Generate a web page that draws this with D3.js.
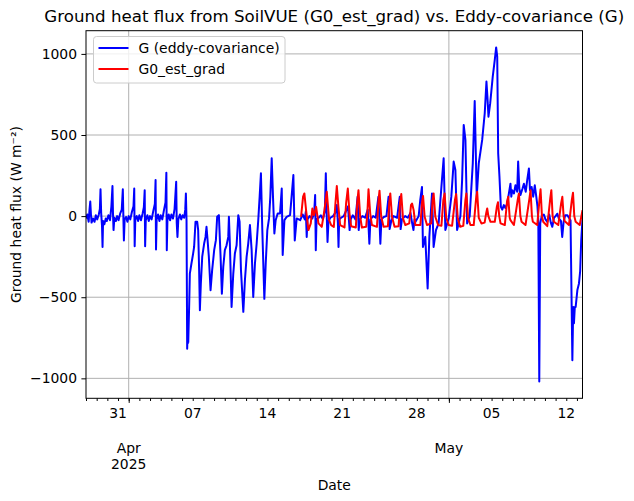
<!DOCTYPE html>
<html>
<head>
<meta charset="utf-8">
<script src="https://cdn.jsdelivr.net/npm/d3@7"></script>
<style>
  body { margin: 0; background: #fff; }
  text { font-family: "DejaVu Sans", sans-serif; fill: #000; }
</style>
</head>
<body>
<div id="chart"></div>
<script>
const width = 634;
const height = 501;
const margin = { top: 30.7, right: 51.5, bottom: 102.7, left: 86 };

// time axis origin; every point is [days since 2025-03-28 00:00 UTC, W m-2]
const startDate = Date.UTC(2025, 2, 28);

const gEddy = [
  [0,-15],[0.12,10],[0.25,-35],[0.33,40],[0.4,90],[0.46,15],[0.52,-40],[0.65,-15],[0.8,-35],[0.92,5],
  [1.05,-20],[1.2,10],[1.3,45],[1.36,165],[1.42,20],[1.5,-60],[1.55,-190],[1.6,-30],[1.72,-50],[1.85,-15],[1.95,-30],
  [2.1,5],[2.25,-25],[2.38,60],[2.48,185],[2.53,10],[2.58,-86],[2.66,-10],[2.8,-30],[2.92,0],
  [3.05,-25],[3.2,15],[3.35,40],[3.45,165],[3.5,0],[3.55,-150],[3.62,-20],[3.75,-5],[3.88,-35],
  [4.0,0],[4.15,-20],[4.3,25],[4.45,60],[4.52,170],[4.56,-185],[4.62,-20],[4.75,0],[4.88,-30],
  [5.0,5],[5.15,-25],[5.3,15],[5.42,55],[5.5,160],[5.54,-185],[5.6,-25],[5.75,5],[5.88,-30],
  [6.0,0],[6.15,-20],[6.3,30],[6.45,75],[6.52,222],[6.56,-205],[6.62,-20],[6.75,10],[6.88,-30],
  [7.0,5],[7.15,-20],[7.3,35],[7.45,85],[7.53,268],[7.57,-210],[7.63,-25],[7.75,10],[7.88,-25],
  [8.0,10],[8.15,-15],[8.3,45],[8.45,212],[8.5,-40],[8.57,-128],[8.65,-20],[8.8,10],[8.92,-20],
  [9.05,5],[9.2,-10],[9.3,40],[9.36,140],[9.42,-30],[9.48,-818],[9.53,-700],[9.58,-780],[9.67,-540],
  [9.73,-354],[9.88,-292],[10.04,-230],[10.13,-190],[10.26,-35],[10.42,-35],[10.51,-86],[10.6,-333],
  [10.67,-580],[10.76,-416],[10.89,-250],[11.07,-169],[11.2,-128],[11.29,-66],[11.39,-148],[11.51,-250],
  [11.67,-457],[11.82,-333],[12.01,-210],[12.17,-148],[12.29,-4],[12.45,6],[12.61,-250],[12.73,-478],
  [12.86,-313],[13.01,-210],[13.17,-180],[13.33,-128],[13.39,-4],[13.48,-169],[13.64,-560],[13.8,-354],
  [13.95,-230],[14.11,-180],[14.27,6],[14.39,-35],[14.52,-333],[14.74,-590],[14.89,-395],[15.05,-250],
  [15.2,-169],[15.36,-55],[15.52,-210],[15.67,-498],[15.83,-292],[15.99,-169],[16.14,-25],[16.27,120],
  [16.39,264],[16.52,-86],[16.71,-510],[16.84,-292],[16.99,-86],[17.15,-14],[17.27,120],[17.4,356],
  [17.52,120],[17.65,-107],[17.77,-25],[17.96,16],[18.18,16],[18.34,170],[18.43,-240],[18.59,-25],
  [18.8,-5],[19.12,6],[19.43,253],[19.56,-150],[19.74,-14],[20.07,-25],
  [20.3,10],[20.5,-20],[20.6,30],[20.68,-128],[20.75,-20],[20.95,0],[21.2,-15],[21.38,20],[21.47,130],
  [21.53,-210],[21.6,-20],[21.8,-10],[22.0,5],[22.2,-20],[22.38,30],[22.47,264],[22.55,20],[22.63,-160],
  [22.72,-30],[22.9,-10],[23.15,0],[23.35,20],[23.5,68],[23.6,-40],[23.66,-190],[23.72,-20],[23.9,-10],
  [24.15,0],[24.35,30],[24.55,60],[24.7,-86],[24.8,-20],[25.0,5],[25.25,-20],[25.45,120],[25.55,-86],
  [25.65,-20],[25.9,0],[26.15,-10],[26.4,40],[26.55,-170],[26.65,-20],[26.9,0],[27.15,-10],[27.4,120],
  [27.5,-30],[27.58,-170],[27.68,-20],[27.9,-5],[28.15,0],[28.35,120],[28.45,-80],[28.6,-30],[28.8,0],
  [29.15,-10],[29.4,120],[29.48,-80],[29.6,-20],[29.9,0],[30.15,-10],[30.4,20],[30.55,-40],[30.68,-86],
  [30.78,-20],[30.87,-35],[31.17,0],[31.32,100],[31.48,180],[31.57,-190],[31.79,-128],[32.01,-446],
  [32.17,-128],[32.42,140],[32.57,-190],[32.79,-86],[33.04,-45],[33.3,180],[33.51,356],[33.67,-86],
  [33.98,-15],[34.23,120],[34.45,336],[34.61,284],[34.77,-86],[35.08,0],[35.24,222],[35.39,562],
  [35.55,470],[35.71,-45],[35.95,0],[36.24,325],[36.42,710],[36.61,120],[36.8,325],[37.12,470],
  [37.36,634],[37.52,830],[37.61,737],[37.71,613],[37.87,695],[38.11,860],[38.3,963],[38.43,1040],
  [38.53,983],[38.62,387],[38.74,243],[38.87,58],[39.0,40],[39.15,68],[39.3,50],[39.47,78],[39.6,130],
  [39.77,200],[39.85,120],[39.93,160],[40.1,140],[40.24,190],[40.4,150],[40.49,336],[40.6,170],
  [40.71,130],[40.9,170],[41.03,200],[41.2,150],[41.34,222],[41.5,294],[41.6,160],[41.75,180],
  [41.9,120],[42.05,190],[42.19,120],[42.3,60],[42.38,-25],[42.47,-1020],[42.56,-45],[42.7,0],
  [42.9,10],[43.05,-20],[43.22,-35],[43.4,10],[43.55,-40],[43.69,-66],[43.85,-10],[44.0,0],[44.15,15],
  [44.31,-15],[44.5,-30],[44.62,-128],[44.75,-35],[44.9,5],[45.09,6],[45.25,-10],[45.4,-25],
  [45.57,-889],[45.65,-560],[45.72,-660],[45.8,-560],[45.88,-560],[46.04,-456],[46.19,-415],
  [46.3,-340],[46.4,-148],[46.52,-20]
];

const g0Grad = [
  [20.15,-4],[20.34,120],[20.46,140],[20.62,37],[20.84,-86],[21.06,-45],[21.21,47],[21.37,6],[21.56,57],
  [21.78,-45],[22.09,-66],[22.34,37],[22.56,150],[22.78,-25],[22.97,-55],[23.22,-66],[23.37,78],
  [23.5,185],[23.65,57],[23.81,-55],[24.22,-70],[24.37,78],[24.53,170],[24.69,16],[24.84,-62],
  [25.28,-70],[25.41,78],[25.53,160],[25.69,-4],[25.85,-70],[26.25,-66],[26.36,16],[26.47,165],
  [26.63,16],[26.79,-55],[27.26,-66],[27.41,99],[27.5,157],[27.66,-4],[27.88,-66],[28.29,-62],
  [28.41,78],[28.51,140],[28.67,-4],[28.91,-66],[29.29,-62],[29.42,78],[29.54,136],[29.7,-14],
  [29.92,-55],[30.29,-45],[30.45,68],[30.55,78],[30.7,37],[30.86,-55],[31.33,-55],[31.49,88],
  [31.58,124],[31.73,-4],[31.95,-55],[32.35,-45],[32.47,99],[32.57,140],[32.73,-4],[32.99,-55],
  [33.3,-60],[33.48,100],[33.6,140],[33.75,-10],[33.98,-55],[34.3,-60],[34.57,100],[34.68,136],
  [34.83,-10],[35.05,-66],[35.35,-60],[35.55,100],[35.64,140],[35.8,-10],[36.02,-55],[36.33,-55],
  [36.55,110],[36.65,150],[36.8,-10],[37.05,-45],[37.35,-40],[37.5,20],[37.59,47],[37.7,0],[37.9,-35],
  [38.3,-35],[38.5,60],[38.6,85],[38.72,0],[38.84,-45],[39.24,-55],[39.45,90],[39.56,119],[39.7,-10],
  [39.77,-25],[40.09,-55],[40.45,100],[40.56,140],[40.7,0],[40.81,-35],[41.18,-55],[41.55,110],
  [41.65,160],[41.78,0],[41.87,-35],[42.28,-55],[42.5,110],[42.59,165],[42.72,0],[42.84,-35],
  [43.22,-62],[43.5,110],[43.6,160],[43.72,0],[43.84,-35],[44.25,-55],[44.52,80],[44.63,119],
  [44.75,0],[44.84,-30],[45.25,-55],[45.52,100],[45.63,144],[45.75,0],[45.88,-35],[46.26,-55],
  [46.52,37]
];

const seriesNames = ["G (eddy-covariance)", "G0_est_grad"];
const seriesColors = ["blue", "red"];
const yTicks = [-1000, -500, 0, 500, 1000];
const weekLabelDates = ["2025-03-31", "2025-04-07", "2025-04-14", "2025-04-21", "2025-04-28", "2025-05-05", "2025-05-12"];
const monthLabels = [
  { date: "2025-04-01", lines: ["Apr", "2025"] },
  { date: "2025-05-01", lines: ["May"] }
];

const fontSize = "13.9px";
const toDate = d => new Date(startDate + d[0] * 864e5);
const allPoints = gEddy.concat(g0Grad);

const svg = d3.select("#chart")
  .append("svg")
  .attr("width", width)
  .attr("height", height);

const x = d3.scaleUtc()
  .domain(d3.extent(allPoints, toDate))
  .range([margin.left, width - margin.right]);

const [lo, hi] = d3.extent(allPoints, d => d[1]);
const pad = (hi - lo) * 0.05;
const y = d3.scaleLinear()
  .domain([lo - pad, hi + pad])
  .range([height - margin.bottom, margin.top]);

const bottom = height - margin.bottom;
const monthDates = monthLabels.map(m => new Date(m.date + "T00:00:00Z"));

// grid
svg.append("g")
  .selectAll("line")
  .data(yTicks)
  .enter()
  .append("line")
  .attr("x1", margin.left)
  .attr("x2", width - margin.right)
  .attr("y1", d => y(d))
  .attr("y2", d => y(d))
  .attr("stroke", "#b0b0b0")
  .attr("stroke-width", 1);

svg.append("g")
  .selectAll("line")
  .data(monthDates)
  .enter()
  .append("line")
  .attr("x1", d => x(d))
  .attr("x2", d => x(d))
  .attr("y1", margin.top)
  .attr("y2", bottom)
  .attr("stroke", "#b0b0b0")
  .attr("stroke-width", 1);

// series
svg.append("clipPath")
  .attr("id", "plot-area")
  .append("rect")
  .attr("x", margin.left)
  .attr("y", margin.top)
  .attr("width", width - margin.left - margin.right)
  .attr("height", bottom - margin.top);

const line = d3.line()
  .x(d => x(toDate(d)))
  .y(d => y(d[1]));

[gEddy, g0Grad].forEach((series, i) => {
  svg.append("path")
    .datum(series)
    .attr("clip-path", "url(#plot-area)")
    .attr("fill", "none")
    .attr("stroke", seriesColors[i])
    .attr("stroke-width", 2)
    .attr("stroke-linejoin", "round")
    .attr("d", line);
});

// frame
svg.append("rect")
  .attr("x", margin.left)
  .attr("y", margin.top)
  .attr("width", width - margin.left - margin.right)
  .attr("height", bottom - margin.top)
  .attr("fill", "none")
  .attr("stroke", "#000")
  .attr("stroke-width", 1);

// y axis
const yAxis = svg.append("g")
  .attr("transform", `translate(${margin.left},0)`)
  .call(d3.axisLeft(y).tickValues(yTicks).tickSize(4.6).tickPadding(4.4).tickFormat(d3.format("d")));
yAxis.select(".domain").remove();
yAxis.selectAll("text")
  .style("font-family", "'DejaVu Sans', sans-serif")
  .style("font-size", fontSize);

// x axis: daily minor ticks, monthly major ticks
const days = d3.utcDay.range(x.domain()[0], x.domain()[1]);
const xMinor = svg.append("g")
  .attr("transform", `translate(0,${bottom})`)
  .call(d3.axisBottom(x).tickValues(days).tickSize(2.7).tickFormat(""));
xMinor.select(".domain").remove();

const xMajor = svg.append("g")
  .attr("transform", `translate(0,${bottom})`)
  .call(d3.axisBottom(x).tickValues(monthDates).tickSize(4.6).tickFormat(""));
xMajor.select(".domain").remove();

svg.append("g")
  .selectAll("text")
  .data(weekLabelDates)
  .enter()
  .append("text")
  .attr("x", d => x(new Date(d + "T00:00:00Z")))
  .attr("y", bottom + 20)
  .attr("text-anchor", "middle")
  .style("font-size", fontSize)
  .text(d => d3.utcFormat("%d")(new Date(d + "T00:00:00Z")));

monthLabels.forEach(m => {
  m.lines.forEach((t, j) => {
    svg.append("text")
      .attr("x", x(new Date(m.date + "T00:00:00Z")))
      .attr("y", bottom + 54.5 + j * 16.5)
      .attr("text-anchor", "middle")
      .style("font-size", fontSize)
      .text(t);
  });
});

// labels
svg.append("text")
  .attr("x", (margin.left + width - margin.right) / 2)
  .attr("y", 489.5)
  .attr("text-anchor", "middle")
  .style("font-size", fontSize)
  .text("Date");

svg.append("text")
  .attr("transform", `translate(21,${(margin.top + bottom) / 2}) rotate(-90)`)
  .attr("text-anchor", "middle")
  .style("font-size", fontSize)
  .text("Ground heat flux (W m⁻²)");

svg.append("text")
  .attr("x", (margin.left + width - margin.right) / 2)
  .attr("y", 22)
  .attr("text-anchor", "middle")
  .style("font-size", "16.67px")
  .text("Ground heat flux from SoilVUE (G0_est_grad) vs. Eddy-covariance (G)");

// legend
const legend = svg.append("g")
  .attr("transform", "translate(93.5,36.5)");

legend.append("rect")
  .attr("width", 191.5)
  .attr("height", 46.5)
  .attr("rx", 3)
  .attr("fill", "#fff")
  .attr("fill-opacity", 0.8)
  .attr("stroke", "#cccccc")
  .attr("stroke-width", 1);

seriesNames.forEach((name, i) => {
  const row = legend.append("g")
    .attr("transform", `translate(0,${11.5 + i * 21})`);
  row.append("line")
    .attr("x1", 5)
    .attr("x2", 35)
    .attr("stroke", seriesColors[i])
    .attr("stroke-width", 2);
  row.append("text")
    .attr("x", 45)
    .attr("y", 5)
    .style("font-size", fontSize)
    .text(name);
});
</script>
</body>
</html>
